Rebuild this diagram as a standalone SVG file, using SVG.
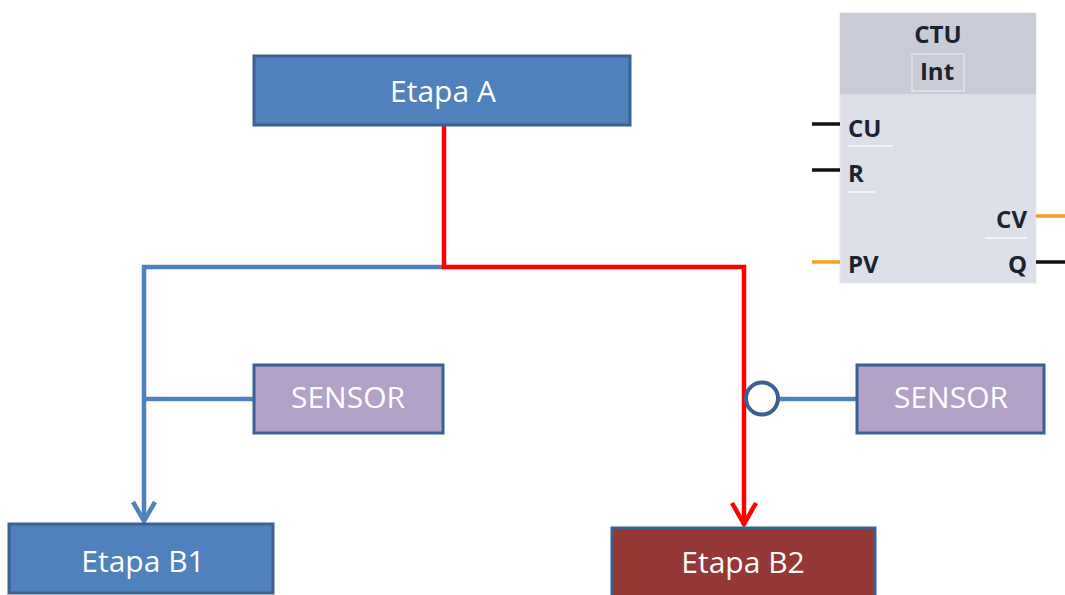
<svg xmlns="http://www.w3.org/2000/svg" width="1065" height="595" viewBox="0 0 1065 595">
<defs>
<style>
.step{stroke:#3b6190;stroke-width:3}
.blue{fill:#4f81bd}
.red{fill:#953735}
.sensor{fill:#b3a2c7}
.lbl{font-family:"Open Sans","Liberation Sans",sans-serif;font-size:30px;fill:#ffffff;text-anchor:middle}
.pin{font-family:"Open Sans","Liberation Sans",sans-serif;font-weight:bold;font-size:24px;fill:#1b2333}
.wb{fill:none;stroke:#4f81bd;stroke-width:4.5}
.wr{fill:none;stroke:#ff0000;stroke-width:4.5}
.blk{stroke:#111111;stroke-width:3.5}
.org{stroke:#f5a21c;stroke-width:3.5}
.ul{stroke:#f2f3f8;stroke-width:2}
</style>
</defs>
<rect width="1065" height="595" fill="#ffffff"/>
<g id="connectors">
<polyline class="wb" points="444,267 144,267 144,521"/>
<polyline class="wb" points="144,399 253,399"/>
<polyline class="wb" points="133,502 144,521 155,502" stroke-linejoin="miter"/>
<polyline class="wr" points="444,125 444,267 744,267 744,525"/>
<polyline class="wr" points="732,503 744,524 756,503" stroke-linejoin="miter"/>
<line x1="778" y1="399" x2="857" y2="399" stroke="#4f81bd" stroke-width="4.5"/>
<circle cx="762" cy="398.5" r="16" fill="#ffffff" stroke="#3b6190" stroke-width="4"/>
</g>
<g id="etapa-a">
<rect class="step blue" x="254" y="56" width="376" height="69"/>
<text class="lbl" x="443" y="102">Etapa A</text>
</g>
<g id="sensor-1">
<rect class="step sensor" x="254" y="365" width="189" height="68"/>
<text class="lbl" x="348" y="408">SENSOR</text>
</g>
<g id="sensor-2">
<rect class="step sensor" x="857" y="365" width="187" height="68"/>
<text class="lbl" x="951" y="408">SENSOR</text>
</g>
<g id="etapa-b1">
<rect class="step blue" x="9" y="524" width="264" height="69"/>
<text class="lbl" x="143" y="572">Etapa B1</text>
</g>
<g id="etapa-b2">
<rect class="step red" x="612" y="528" width="263" height="72"/>
<text class="lbl" x="743" y="573">Etapa B2</text>
</g>
<g id="ctu">
<rect x="840" y="13" width="196" height="270" fill="#dcdee8" stroke="#e6e7ee" stroke-width="1"/>
<rect x="840" y="13" width="196" height="81" fill="#c9cbd7"/>
<text class="pin" x="938" y="43" text-anchor="middle">CTU</text>
<rect x="912" y="54" width="52" height="37" fill="#c9cbd7" stroke="#e3e4ec" stroke-width="1.5"/>
<text class="pin" x="937" y="80" text-anchor="middle">Int</text>
<line class="blk" x1="812" y1="124" x2="840" y2="124"/>
<text class="pin" x="848" y="137">CU</text>
<line class="ul" x1="848" y1="146" x2="893" y2="146"/>
<line class="blk" x1="812" y1="170" x2="840" y2="170"/>
<text class="pin" x="848" y="182">R</text>
<line class="ul" x1="848" y1="192" x2="875" y2="192"/>
<line class="org" x1="1036" y1="216" x2="1065" y2="216"/>
<text class="pin" x="1027" y="228" text-anchor="end">CV</text>
<line class="ul" x1="985" y1="238" x2="1027" y2="238"/>
<line class="org" x1="812" y1="262" x2="840" y2="262"/>
<text class="pin" x="848" y="273">PV</text>
<line class="blk" x1="1036" y1="262" x2="1065" y2="262"/>
<text class="pin" x="1027" y="273" text-anchor="end">Q</text>
</g>
</svg>
